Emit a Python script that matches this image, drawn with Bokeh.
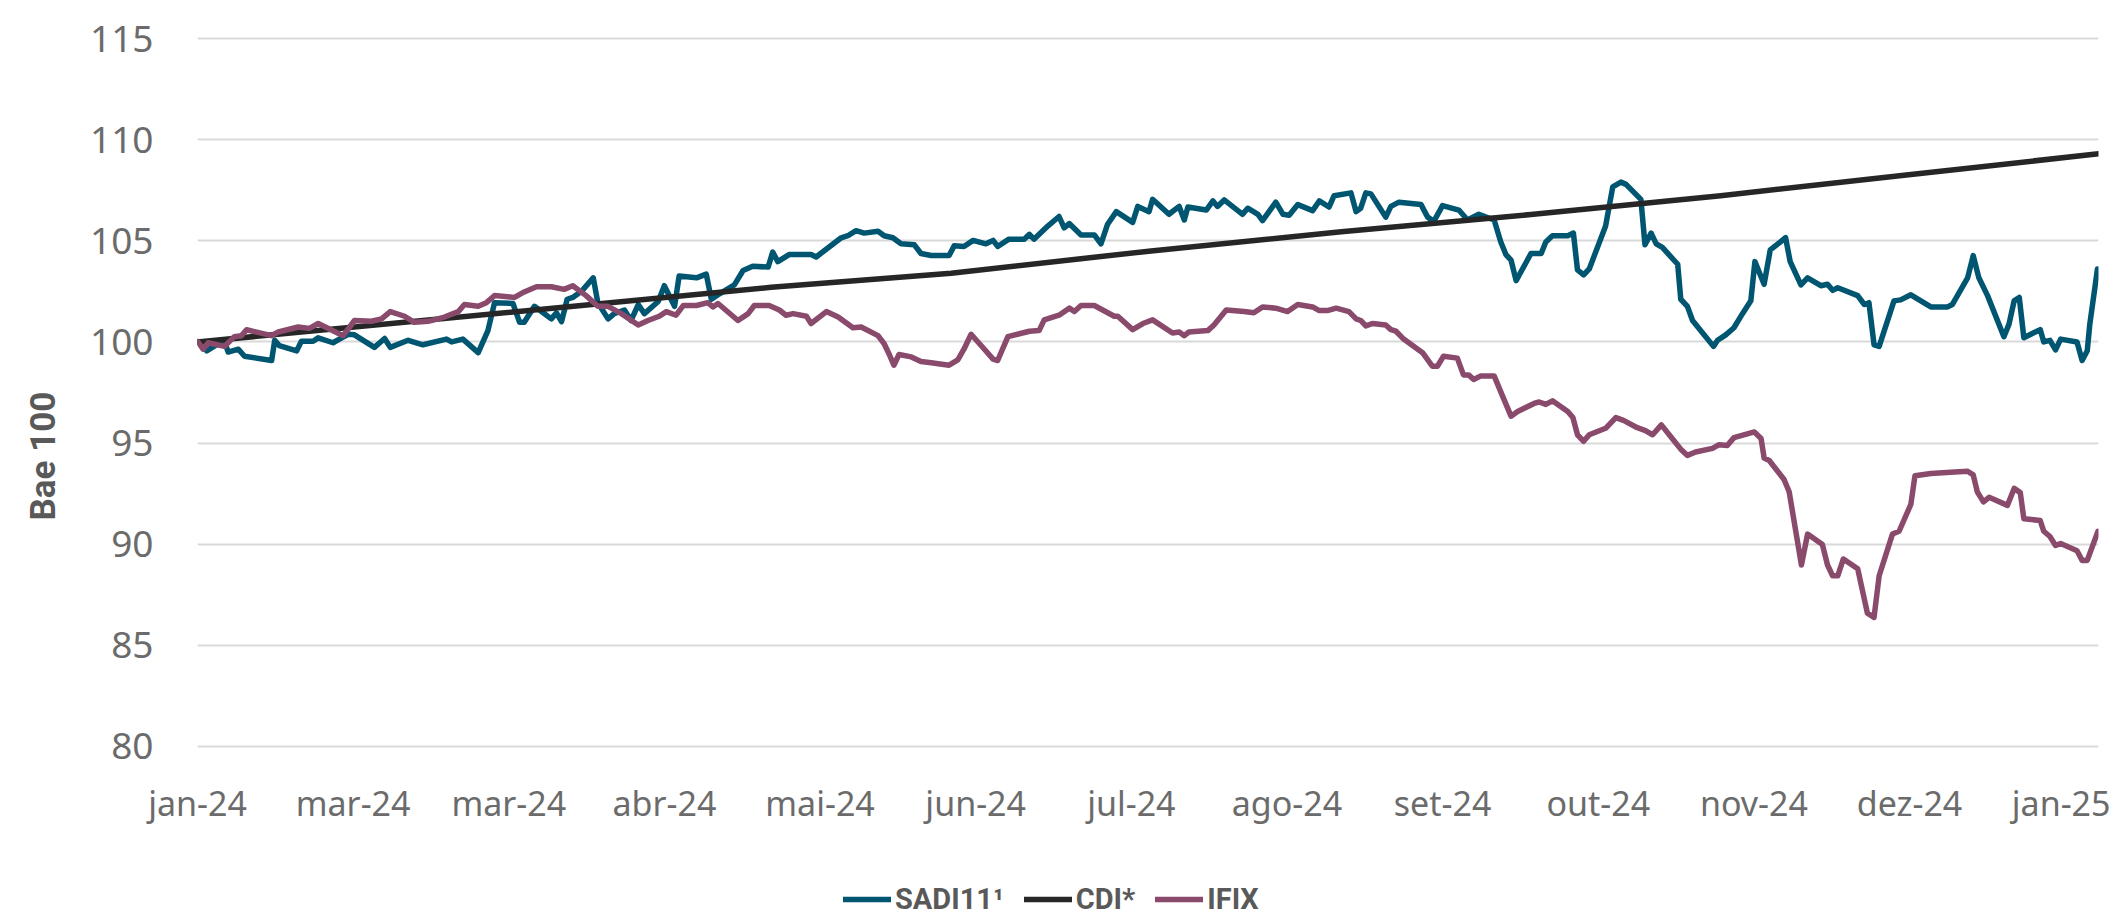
from bokeh.plotting import figure
from bokeh.layouts import column
from bokeh.models import Range1d, FixedTicker, Legend, LegendItem, Title
from bokeh.embed import file_html
from bokeh.resources import INLINE

# ---------------- data (x = days since start of series, y = base 100) ----------------
tick_labels = ["jan-24", "mar-24", "mar-24", "abr-24", "mai-24", "jun-24", "jul-24",
               "ago-24", "set-24", "out-24", "nov-24", "dez-24", "jan-25"]

sadi_day = [0.0, 1.8, 4.0, 5.3, 6.0, 8.0, 9.2, 14.5, 15.1, 16.0, 19.4, 20.3, 22.6, 23.6, 26.5,
            28.2, 29.5, 30.7, 34.6, 36.6, 37.7, 41.2, 44.1, 48.7, 49.7, 51.9, 54.9, 56.8, 58.1,
            61.7, 63.0, 63.9, 65.9, 69.2, 70.2, 71.2, 72.3, 73.4, 75.1, 77.4, 78.3, 80.3, 81.5,
            83.5, 84.8, 86.2, 87.4, 90.1, 91.3, 93.3, 94.2, 97.6, 99.5, 100.5, 102.1, 105.0,
            106.7, 108.6, 111.6, 112.5, 113.5, 115.7, 120.0, 121.0, 125.9, 127.2, 128.8, 130.4,
            133.1, 134.3, 136.0, 137.6, 140.2, 141.5, 143.5, 147.0, 148.0, 149.9, 151.7, 154.2,
            155.6, 156.5, 158.7, 161.7, 162.7, 163.6, 166.3, 168.5, 169.5, 170.5, 172.8, 175.4,
            176.7, 178.0, 179.7, 182.9, 183.9, 186.1, 186.8, 190.0, 192.0, 193.0, 193.7, 197.3,
            198.6, 199.5, 200.8, 204.4, 205.4, 207.4, 208.3, 210.9, 212.3, 213.5, 215.2, 218.1,
            219.4, 221.3, 222.3, 225.6, 226.6, 227.5, 228.5, 229.5, 232.4, 233.4, 235.0, 239.3,
            240.6, 241.8, 243.5, 246.7, 248.4, 250.6, 253.6, 254.9, 255.9, 256.9, 257.9, 260.8,
            262.8, 263.7, 265.0, 268.0, 269.1, 269.9, 271.1, 272.2, 275.4, 276.8, 278.4, 279.4,
            282.3, 283.1, 284.3, 285.3, 286.5, 289.5, 290.1, 291.4, 292.4, 296.5, 297.3, 298.9,
            300.5, 302.2, 303.8, 304.6, 306.4, 307.6, 310.6, 311.5, 313.6, 314.9, 317.5, 318.8,
            319.8, 320.8, 324.7, 326.0, 326.9, 327.9, 328.9, 331.8, 333.1, 335.1, 339.0, 342.3,
            343.2, 346.2, 347.3, 348.4, 350.1, 353.3, 354.3, 355.3, 356.3, 357.2, 360.4, 361.1,
            362.3, 363.4, 364.4, 367.6, 368.6, 369.6, 370.1, 371.6]
sadi_val = [100.0, 99.56, 99.9, 100.0, 99.5, 99.64, 99.29, 99.08, 100.08, 99.82, 99.56, 100.03,
            100.03, 100.2, 99.96, 100.2, 100.38, 100.35, 99.73, 100.17, 99.73, 100.08, 99.86,
            100.14, 100.0, 100.14, 99.47, 100.56, 101.94, 101.9, 100.97, 100.97, 101.76, 101.14,
            101.44, 101.0, 102.11, 102.2, 102.5, 103.17, 101.94, 101.14, 101.4, 101.58, 101.06,
            101.85, 101.4, 102.0, 102.78, 101.76, 103.26, 103.17, 103.35, 102.11, 102.38, 102.82,
            103.53, 103.74, 103.7, 104.44, 103.97, 104.32, 104.32, 104.2, 105.15, 105.25, 105.5,
            105.38, 105.47, 105.25, 105.15, 104.85, 104.8, 104.37, 104.27, 104.27, 104.76, 104.72,
            105.02, 104.85, 105.02, 104.72, 105.08, 105.08, 105.32, 105.08, 105.73, 106.2, 105.64,
            105.85, 105.29, 105.29, 104.85, 105.82, 106.44, 105.91, 106.7, 106.44, 107.05, 106.31,
            106.7, 106.03, 106.67, 106.52, 106.97, 106.7, 107.02, 106.31, 106.61, 106.31, 106.0,
            106.91, 106.31, 106.26, 106.79, 106.49, 106.97, 106.67, 107.23, 107.37, 106.44,
            106.61, 107.37, 107.32, 106.17, 106.7, 106.91, 106.79, 106.17, 105.96, 106.74,
            106.52, 106.03, 106.31, 106.03, 104.94, 104.32, 104.05, 103.03, 104.37, 104.37,
            104.94, 105.25, 105.25, 105.38, 103.56, 103.31, 103.61, 105.73, 107.67, 107.9,
            107.79, 107.05, 104.8, 105.38, 104.85, 104.67, 103.84, 102.11, 101.76, 101.06, 99.78,
            100.08, 100.35, 100.7, 101.41, 102.03, 103.97, 102.85, 104.55, 105.15, 103.97,
            102.82, 103.17, 102.78, 102.85, 102.55, 102.68, 102.29, 101.85, 101.94, 99.86, 99.78,
            102.03, 102.08, 102.33, 101.73, 101.73, 101.85, 103.17, 104.27, 103.17, 102.29,
            100.26, 100.88, 102.03, 102.2, 100.21, 100.61, 100.0, 100.08, 99.61, 100.14, 100.0,
            99.08, 99.56, 100.88, 103.61]

cdi_day = [0.0, 75.1, 112.2, 147.4, 186.5, 223.7, 260.8, 297.9, 335.1, 371.8]
cdi_val = [100.0, 101.8, 102.7, 103.4, 104.5, 105.45, 106.3, 107.23, 108.28, 109.3]

ifix_day = [0.0, 1.1, 2.1, 5.3, 7.2, 8.6, 9.6, 14.5, 15.8, 19.7, 21.9, 23.6, 28.5, 30.7, 34.0,
            36.0, 37.7, 40.5, 42.4, 45.1, 48.3, 51.0, 52.2, 54.9, 56.5, 58.1, 62.0, 63.9, 66.3,
            69.2, 71.7, 73.4, 76.0, 78.3, 80.3, 82.9, 86.2, 88.1, 90.3, 91.7, 93.6, 95.0, 97.6,
            99.8, 100.8, 101.8, 105.7, 107.7, 108.9, 111.8, 113.8, 115.1, 116.5, 119.1, 120.0,
            123.0, 125.3, 128.2, 129.8, 133.1, 134.3, 135.3, 136.2, 137.2, 139.6, 141.5, 143.5,
            147.0, 148.7, 149.9, 151.3, 153.9, 155.6, 156.5, 158.5, 162.7, 164.6, 165.6, 168.5,
            170.5, 171.5, 172.8, 175.4, 179.3, 180.0, 182.9, 184.9, 186.8, 190.7, 192.0, 193.0,
            193.9, 197.6, 198.8, 201.2, 204.7, 206.6, 208.3, 210.9, 213.2, 215.2, 218.1, 219.4,
            221.0, 222.7, 225.2, 226.6, 227.5, 228.5, 229.8, 232.4, 233.4, 234.4, 235.9, 239.6,
            241.5, 242.5, 243.7, 246.4, 247.6, 248.6, 249.6, 251.0, 253.6, 254.9, 256.9, 258.2,
            261.4, 262.4, 263.7, 265.0, 268.0, 269.0, 269.9, 271.1, 272.2, 275.4, 277.4, 278.9,
            281.6, 283.2, 284.6, 286.3, 288.7, 290.1, 291.4, 293.0, 296.3, 297.6, 299.2, 300.5,
            304.5, 305.8, 306.4, 307.4, 310.3, 311.3, 313.7, 314.9, 317.8, 318.8, 319.8, 320.8,
            321.9, 324.7, 326.6, 327.9, 328.9, 331.5, 332.8, 335.1, 335.9, 339.0, 342.9, 346.2,
            347.3, 348.1, 349.3, 350.4, 354.0, 355.3, 356.5, 357.2, 360.4, 361.1, 362.3, 363.4,
            364.4, 367.6, 368.6, 369.6, 371.7]
ifix_val = [100.03, 99.64, 99.96, 99.78, 100.26, 100.31, 100.6, 100.31, 100.49, 100.74, 100.67,
            100.91, 100.31, 101.06, 101.02, 101.14, 101.5, 101.27, 100.97, 101.02, 101.23, 101.5,
            101.85, 101.76, 101.94, 102.29, 102.2, 102.47, 102.73, 102.73, 102.6, 102.78, 102.29,
            101.76, 101.76, 101.4, 100.84, 101.06, 101.27, 101.5, 101.32, 101.8, 101.8, 101.94,
            101.73, 101.9, 101.06, 101.4, 101.8, 101.8, 101.58, 101.32, 101.4, 101.27, 100.91,
            101.5, 101.23, 100.7, 100.74, 100.31, 99.91, 99.38, 98.85, 99.38, 99.26, 99.03, 98.97,
            98.85, 99.11, 99.64, 100.38, 99.64, 99.15, 99.08, 100.26, 100.53, 100.56, 101.09,
            101.32, 101.67, 101.5, 101.8, 101.8, 101.27, 101.27, 100.61, 100.91, 101.09, 100.44,
            100.49, 100.31, 100.49, 100.56, 100.84, 101.58, 101.5, 101.44, 101.73, 101.67, 101.5,
            101.85, 101.73, 101.55, 101.55, 101.67, 101.5, 101.14, 101.06, 100.79, 100.91, 100.84,
            100.61, 100.53, 100.14, 99.47, 98.8, 98.8, 99.29, 99.2, 98.37, 98.37, 98.14, 98.32,
            98.32, 97.53, 96.33, 96.56, 96.96, 97.03, 96.91, 97.09, 96.56, 96.26, 95.41, 95.09,
            95.41, 95.73, 96.26, 96.12, 95.76, 95.62, 95.41, 95.9, 95.14, 94.7, 94.39, 94.56,
            94.74, 94.92, 94.88, 95.27, 95.55, 95.23, 94.26, 94.14, 93.2, 92.59, 88.97, 90.5,
            89.98, 88.97, 88.44, 88.44, 89.27, 88.79, 86.59, 86.38, 88.44, 90.5, 90.64, 91.97,
            93.38, 93.5, 93.56, 93.61, 93.43, 92.59, 92.09, 92.32, 91.92, 92.76, 92.55, 91.26,
            91.17, 90.64, 90.38, 89.94, 90.03, 89.68, 89.2, 89.2, 90.64]

series_names = ["SADI11\u00b9", "CDI*", "IFIX"]
series_colors = ["#005571", "#262626", "#8A4A6C"]
y_ticks = [80, 85, 90, 95, 100, 105, 110, 115]
y_title = "Bae 100"

# ---------------- styling ----------------
TICK_FONT = "Noto Sans"
BOLD_FONT = "Roboto"
LINE_W = 5.5
month_len = 30.44
tick_pos = [round(i * month_len, 2) for i in range(len(tick_labels))]
series = [(sadi_day, sadi_val), (cdi_day, cdi_val), (ifix_day, ifix_val)]

# ---------------- main chart ----------------
p = figure(width=2110, height=830, output_backend="svg", toolbar_location=None,
           x_range=Range1d(0, 371.8), y_range=Range1d(79.9, 115.1),
           min_border_left=196, min_border_right=12, min_border_top=36, min_border_bottom=82)
p.outline_line_color = None
p.background_fill_color = "white"
p.border_fill_color = "white"

p.xgrid.grid_line_color = None
p.ygrid.grid_line_color = "#D9D9D9"
p.ygrid.grid_line_width = 2

p.yaxis.ticker = FixedTicker(ticks=y_ticks)
p.xaxis.ticker = FixedTicker(ticks=tick_pos)
p.xaxis.major_label_overrides = {tp: lab for tp, lab in zip(tick_pos, tick_labels)}

for ax in (p.xaxis[0], p.yaxis[0]):
    ax.axis_line_color = None
    ax.major_tick_line_color = None
    ax.minor_tick_line_color = None
    ax.major_label_text_color = "#6B6B6B"
    ax.major_label_text_font = TICK_FONT
p.yaxis.major_label_text_font_size = "37px"
p.yaxis.major_label_standoff = 38
p.xaxis.major_label_text_font_size = "34px"
p.xaxis.major_label_standoff = 25

for (d, v), c in zip(series, series_colors):
    p.line(d, v, line_color=c, line_width=LINE_W, line_join="round", line_cap="round")

title = Title(text=y_title, align="left", offset=228, vertical_align="top", standoff=44,
              text_font=BOLD_FONT, text_font_style="bold", text_font_size="35px",
              text_color="#595959")
p.add_layout(title, "left")

# ---------------- legend strip (same series, drawn outside its visible range) ----------------
leg = figure(width=2110, height=88, output_backend="svg", toolbar_location=None,
             x_axis_type=None, y_axis_type=None, x_range=Range1d(0, 1), y_range=Range1d(0, 1),
             min_border=0)
leg.outline_line_color = None
leg.xgrid.visible = False
leg.ygrid.visible = False
leg_renderers = [leg.line(d, v, line_color=c, line_width=LINE_W, line_cap="round")
                 for (d, v), c in zip(series, series_colors)]
legend = Legend(items=[LegendItem(label=n, renderers=[r]) for n, r in zip(series_names, leg_renderers)],
                location=(646, 2), orientation="horizontal",
                label_text_font=BOLD_FONT, label_text_font_style="bold",
                label_text_font_size="29px", label_text_color="#595959",
                glyph_width=48, glyph_height=24, label_height=24, label_standoff=4,
                spacing=20, padding=0, margin=0,
                border_line_color=None, background_fill_alpha=0)
leg.add_layout(legend)

open("out.html", "w").write(file_html(column(p, leg, spacing=0), INLINE))
